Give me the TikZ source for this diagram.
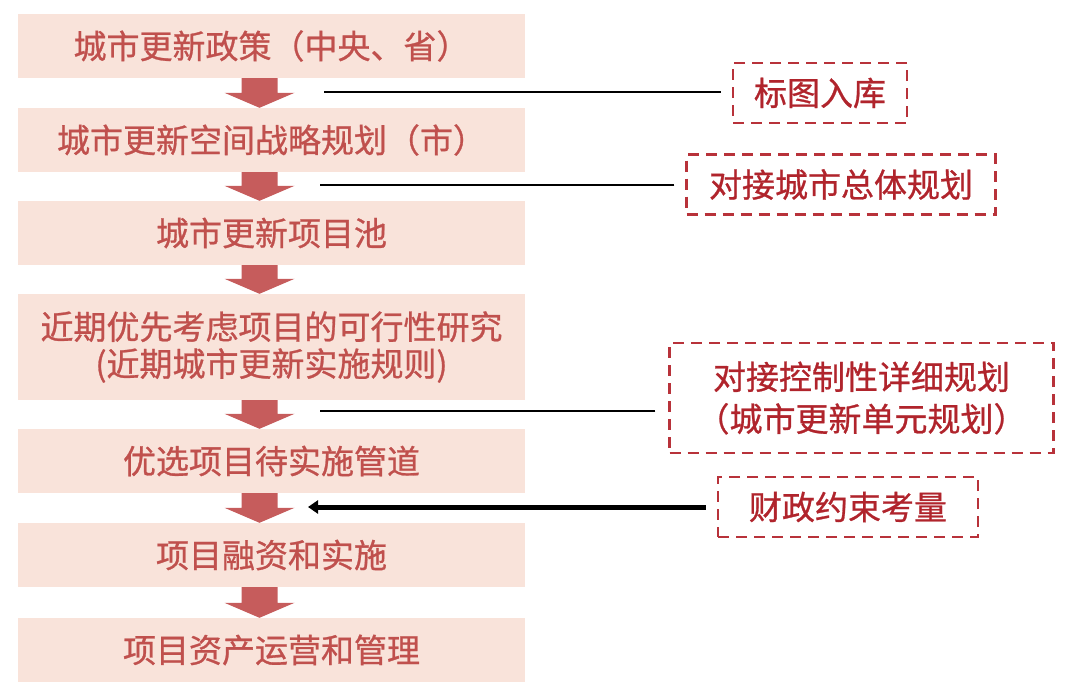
\documentclass[tikz,border=0pt]{standalone}
\usepackage{fontspec}
\setmainfont[FakeBold=0.8]{Noto Sans CJK SC}
\usetikzlibrary{calc,arrows.meta}
\definecolor{boxfill}{HTML}{F9E3DA}
\definecolor{boxtext}{HTML}{C0504D}
\definecolor{arrfill}{HTML}{C65C5C}
\definecolor{rtext}{HTML}{B0242C}
\definecolor{rborder}{HTML}{B8323A}
\tikzset{
  stepbox/.style={fill=boxfill, text=boxtext, minimum width=507pt, minimum height=64pt,
    inner sep=0pt, align=center, font=\fontsize{33}{37}\selectfont},
  notebox/.style={draw=rborder, line width=2.4pt, dash pattern=on 11pt off 7pt,
    text=rtext, inner sep=0pt, align=center, font=\fontsize{33}{42}\selectfont},
  barrow/.style={fill=arrfill},
  thinlink/.style={draw=black, line width=2.5pt},
  thicklink/.style={draw=black, line width=5pt, -{Triangle[length=10pt,width=13pt]}}
}
\newcommand\blockarrow[2]{%
  \fill[barrow] ($(#1.south)+(-30,0)$) -- ($(#1.south)+(6,0)$) -- ($(#2.north)+(6,-15)$)
    -- ($(#2.north)+(23,-15)$) -- ($(#2.north)+(-12,0)$) -- ($(#2.north)+(-47,-15)$)
    -- ($(#2.north)+(-30,-15)$) -- cycle;}
\begin{document}
\begin{tikzpicture}[x=1pt,y=-1pt]
\useasboundingbox (0,0) rectangle (1080,697);
\node[stepbox] (b1) at (271.5,46) {城市更新政策（中央、省）};
\node[stepbox] (b2) at (271.5,140) {城市更新空间战略规划（市）};
\node[stepbox] (b3) at (271.5,233) {城市更新项目池};
\node[stepbox, minimum height=106pt] (b4) at (271.5,347) {近期优先考虑项目的可行性研究\\(近期城市更新实施规则)};
\node[stepbox] (b5) at (271.5,461) {优选项目待实施管道};
\node[stepbox] (b6) at (271.5,555) {项目融资和实施};
\node[stepbox] (b7) at (271.5,650) {项目资产运营和管理};
\blockarrow{b1}{b2}
\blockarrow{b2}{b3}
\blockarrow{b3}{b4}
\blockarrow{b4}{b5}
\blockarrow{b5}{b6}
\blockarrow{b6}{b7}
\node[notebox, minimum width=174pt, minimum height=60pt] (n1) at (820,93) {标图入库};
\node[notebox, minimum width=309pt, minimum height=60pt] (n2) at (841,184.5) {对接城市总体规划};
\node[notebox, minimum width=384pt, minimum height=110pt] (n3) at (861.5,398) {对接控制性详细规划\\（城市更新单元规划）};
\node[notebox, minimum width=260pt, minimum height=60pt] (n4) at (848,507) {财政约束考量};
\coordinate (e1) at (324,92);
\coordinate (e2) at (320,185);
\coordinate (e3) at (320,411);
\coordinate (e4) at (308,507);
\draw[thinlink] ([xshift=-11pt]n1.west |- e1) -- (e1);
\draw[thinlink] ([xshift=-11pt]n2.west |- e2) -- (e2);
\draw[thinlink] ([xshift=-13pt]n3.west |- e3) -- (e3);
\draw[thicklink] ([xshift=-11pt]n4.west |- e4) -- (e4);
\end{tikzpicture}
\end{document}
